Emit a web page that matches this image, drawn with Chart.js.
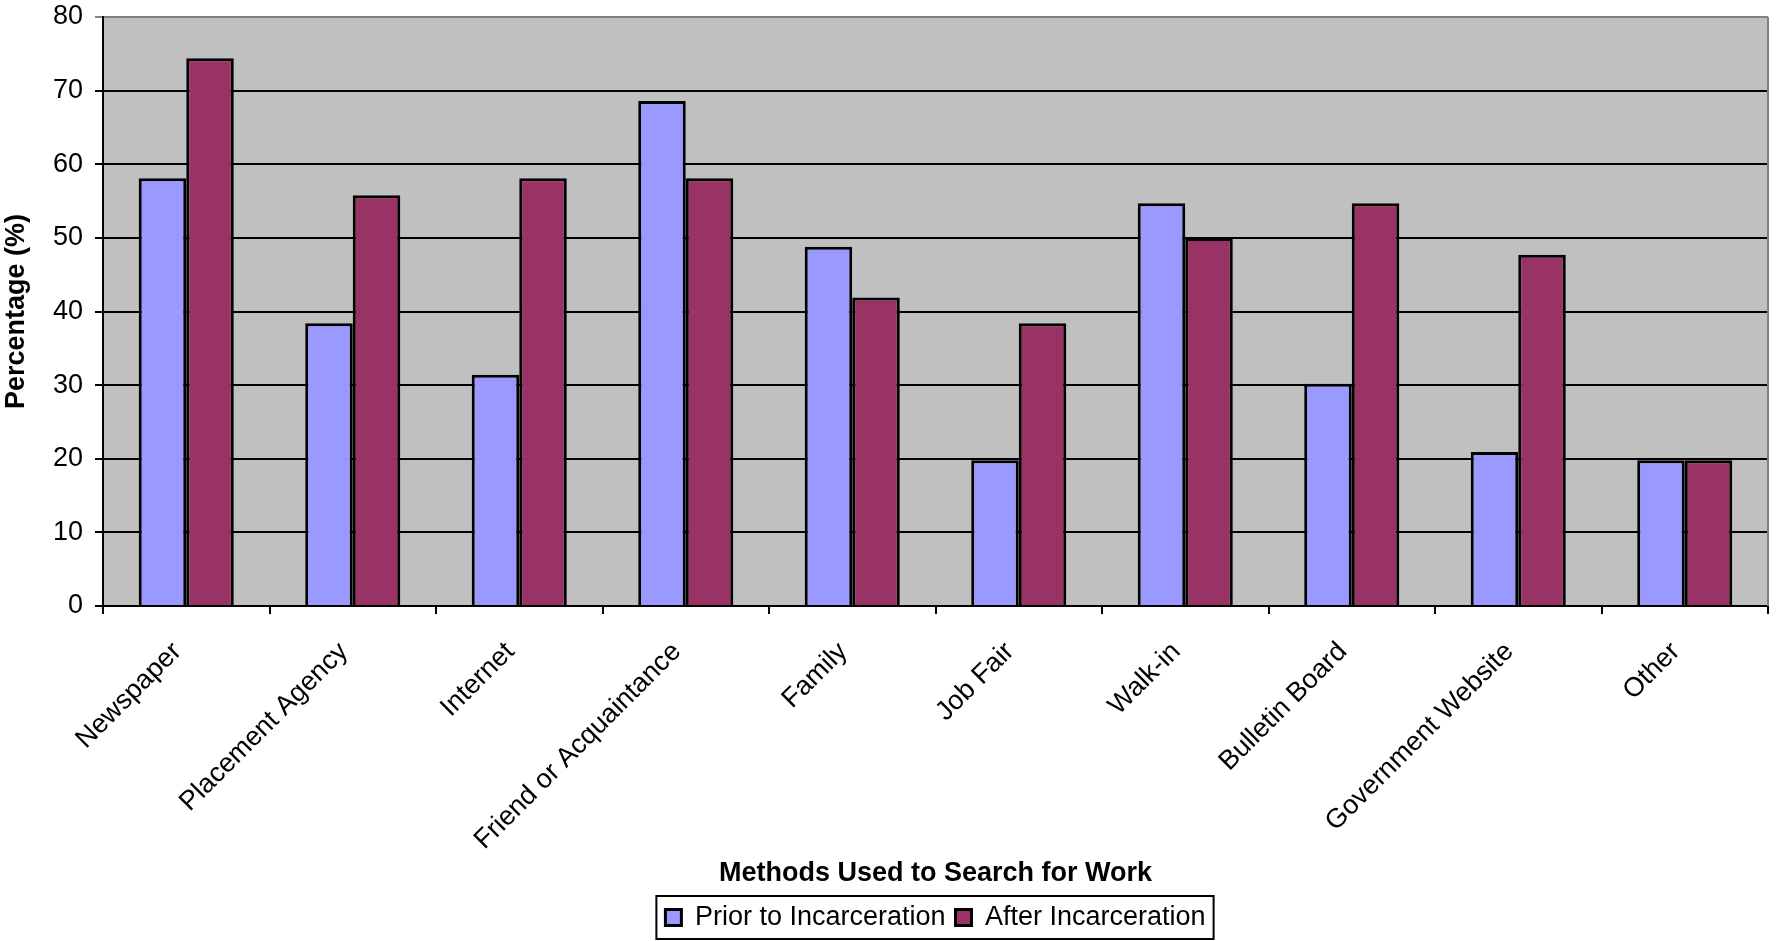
<!DOCTYPE html>
<html lang="en">
<head>
  <meta charset="UTF-8">
  <title>Methods Used to Search for Work</title>
  <script src="https://cdn.jsdelivr.net/npm/chart.js"></script>
  <style>
    body { margin: 0; background: #fff; }
    #wrap { width: 1777px; height: 941px; }
  </style>
</head>
<body>
  <div id="wrap"><canvas id="chart" width="1777" height="941"></canvas></div>

  <script>
    const categories = ["Newspaper", "Placement Agency", "Internet", "Friend or Acquaintance", "Family",
                        "Job Fair", "Walk-in", "Bulletin Board", "Government Website", "Other"];
    const priorValues = [58.1, 38.4, 31.4, 68.6, 48.8, 19.8, 54.7, 30.2, 20.9, 19.8];
    const afterValues = [74.4, 55.8, 58.1, 58.1, 41.9, 38.4, 50.0, 54.7, 47.7, 19.8];
    const yTicks = [0, 10, 20, 30, 40, 50, 60, 70, 80];

    const FONT = "'Liberation Sans', Arial, sans-serif";
    const FS = 27;
    Chart.defaults.font.family = FONT;
    Chart.defaults.color = '#000';

    // grey plot background, grey right edge, box round the legend
    const plotDecor = {
      id: 'plotDecor',
      beforeDraw(chart) {
        const a = chart.chartArea, ctx = chart.ctx;
        ctx.save();
        ctx.fillStyle = '#C0C0C0';
        ctx.fillRect(a.left, a.top, a.right - a.left, a.bottom - a.top);
        ctx.restore();
      },
      afterDraw(chart) {
        const a = chart.chartArea, ctx = chart.ctx;
        ctx.save();
        ctx.strokeStyle = '#808080';
        ctx.lineWidth = 2;
        ctx.beginPath();
        ctx.moveTo(a.right, a.top);
        ctx.lineTo(a.right, a.bottom);
        ctx.stroke();

        const boxes = chart.legend.legendHitBoxes;
        if (boxes && boxes.length) {
          const l = Math.min(...boxes.map(b => b.left)) - 9;
          const r = Math.max(...boxes.map(b => b.left + b.width)) + 8;
          const t = Math.min(...boxes.map(b => b.top)) - 8;
          const bt = Math.max(...boxes.map(b => b.top + b.height)) + 8;
          ctx.strokeStyle = '#000';
          ctx.lineWidth = 2;
          ctx.strokeRect(l, t, r - l, bt - t);
        }
        ctx.restore();
      }
    };

    new Chart(document.getElementById('chart').getContext('2d'), {
      type: 'bar',
      data: {
        labels: categories,
        datasets: [
          {
            label: 'Prior to Incarceration',
            data: priorValues,
            backgroundColor: '#9999FF',
            borderColor: '#000',
            borderWidth: 3
          },
          {
            label: 'After Incarceration',
            data: afterValues,
            backgroundColor: '#993366',
            borderColor: '#000',
            borderWidth: 3
          }
        ]
      },
      options: {
        responsive: false,
        animation: false,
        layout: { padding: { top: 0, right: 9, left: 0, bottom: 0 } },
        datasets: { bar: { categoryPercentage: 0.571, barPercentage: 1.0 } },
        plugins: {
          tooltip: { enabled: false },
          legend: {
            position: 'bottom',
            fullSize: false,
            labels: {
              font: { size: FS },
              boxWidth: 16,
              boxHeight: 16,
              padding: 10
            }
          }
        },
        scales: {
          x: {
            grid: {
              offset: true,
              drawOnChartArea: false,
              drawTicks: true,
              tickLength: 8,
              color: '#000',
              lineWidth: 2
            },
            border: { color: '#000', width: 2 },
            ticks: {
              font: { size: FS },
              minRotation: 45,
              maxRotation: 45,
              padding: 22,
              labelOffset: -9,
              autoSkip: false
            },
            title: {
              display: true,
              text: 'Methods Used to Search for Work',
              font: { size: FS, weight: 'bold' },
              padding: { top: 0, bottom: 4 }
            },
            afterFit(scale) { scale.height = 288; }
          },
          y: {
            min: 0,
            max: 80,
            afterBuildTicks(scale) { scale.ticks = yTicks.map(v => ({ value: v })); },
            grid: {
              color: ctx => ctx.tick && ctx.tick.value === 80 ? '#808080' : '#000',
              lineWidth: 2,
              tickLength: 8
            },
            border: { color: '#000', width: 2 },
            ticks: { font: { size: FS }, padding: 12 },
            title: {
              display: true,
              text: 'Percentage (%)',
              font: { size: FS, weight: 'bold' },
              padding: { top: 0, bottom: 4 }
            },
            afterFit(scale) {
              scale.width = 103;
              scale.paddingTop = 17;
            }
          }
        }
      },
      plugins: [plotDecor]
    });
  </script>
</body>
</html>
